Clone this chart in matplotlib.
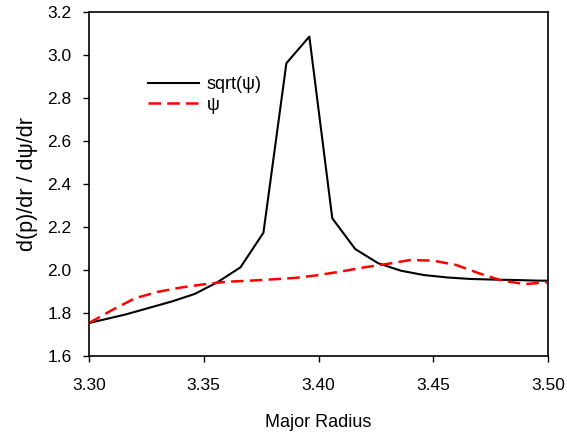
import matplotlib
matplotlib.use("Agg")
import matplotlib.pyplot as plt

plt.rcParams['font.family'] = ['Liberation Sans', 'DejaVu Sans']

# values
r_sqrt = [3.296, 3.306, 3.316, 3.326, 3.336, 3.346, 3.356, 3.366, 3.376, 3.386,
          3.396, 3.406, 3.416, 3.426, 3.436, 3.446, 3.456, 3.466, 3.476, 3.486,
          3.496, 3.506]
dp_sqrt = [1.745, 1.770, 1.795, 1.825, 1.855, 1.890, 1.945, 2.014, 2.175, 2.963,
           3.087, 2.242, 2.099, 2.033, 1.998, 1.978, 1.967, 1.960, 1.957, 1.955,
           1.952, 1.952]

r_psi = [3.30, 3.31, 3.32, 3.33, 3.34, 3.35, 3.36, 3.37, 3.38, 3.39, 3.40,
         3.41, 3.42, 3.43, 3.44, 3.45, 3.46, 3.47, 3.48, 3.49, 3.50]
dp_psi = [1.755, 1.815, 1.870, 1.900, 1.920, 1.935, 1.947, 1.952, 1.958, 1.965,
          1.978, 1.995, 2.014, 2.030, 2.048, 2.045, 2.025, 1.986, 1.952, 1.936,
          1.945]

fig = plt.figure(figsize=(5.67, 4.33), dpi=100)
ax = fig.add_axes([0.157, 0.177, 0.8095, 0.7946])

ax.plot(r_sqrt, dp_sqrt, color='black', lw=1.5, label='sqrt(\u03c8)')
ax.plot(r_psi, dp_psi, color='red', lw=1.8, dashes=(5, 2.5), label='\u03c8')

ax.set_xlim(3.30, 3.50)
ax.set_ylim(1.6, 3.2)
ax.set_xticks([3.30, 3.35, 3.40, 3.45, 3.50])
ax.set_xticklabels(['3.30', '3.35', '3.40', '3.45', '3.50'])
ax.set_yticks([1.6, 1.8, 2.0, 2.2, 2.4, 2.6, 2.8, 3.0, 3.2])
ax.set_yticklabels(['1.6', '1.8', '2.0', '2.2', '2.4', '2.6', '2.8', '3.0', '3.2'])
ax.tick_params(direction='out', length=4.5, width=1, labelsize=12.5, top=False, right=False)
ax.tick_params(axis='x', pad=11)
ax.tick_params(axis='y', pad=8)
for s in ax.spines.values():
    s.set_linewidth(1.2)

ax.set_xlabel('Major Radius', fontsize=13, labelpad=15)
ax.set_ylabel('d(p)/dr / d\u03c8/dr', fontsize=15.5, labelpad=7)

ax.legend(loc='upper left', bbox_to_anchor=(0.093, 0.862), frameon=False,
          fontsize=13, handlelength=2.8, handletextpad=0.45, labelspacing=0.2)

fig.savefig('out.png', dpi=100)
